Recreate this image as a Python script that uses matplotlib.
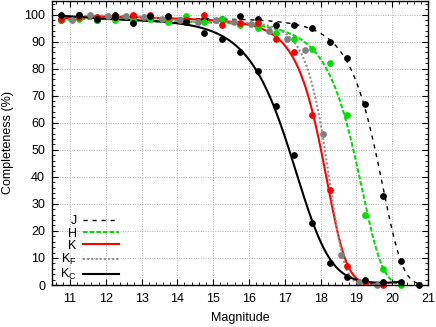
import numpy as np
import matplotlib
matplotlib.use("Agg")
import matplotlib.pyplot as plt
from matplotlib.ticker import MultipleLocator

plt.rcParams['font.family'] = ['Liberation Sans', 'DejaVu Sans']
plt.rcParams['mathtext.default'] = 'regular'

# ---- data ----
mag_J = [10.75, 11.25, 11.75, 12.25, 12.75, 13.25, 13.75, 14.25, 14.75, 15.25, 15.75,
         16.25, 16.75, 17.25, 17.75, 18.25, 18.75, 19.25, 19.75, 20.25, 20.75]
comp_J = [98, 100, 98, 100, 99.4, 99, 99, 98, 98.5, 98.5, 99.3,
          98.2, 96.2, 96.2, 95, 90, 84, 67, 33, 9, 0]

mag_H = [10.75, 11.25, 11.75, 12.25, 12.75, 13.25, 13.75, 14.25, 14.75, 15.25,
         15.75, 16.25, 16.75, 17.25, 17.75, 18.25, 18.75, 19.25, 19.75, 20.25]
comp_H = [98, 98.2, 98, 98, 98, 98.2, 97.2, 99.4, 97.2, 98.4,
          96.2, 95.1, 93.2, 91.1, 87.1, 82, 63, 26, 6, 0]

mag_K = [10.75, 11.25, 11.75, 12.25, 12.75, 13.25, 13.75, 14.25, 14.75, 15.25,
         15.75, 16.25, 16.75, 17.25, 17.75, 18.25, 18.75, 19.25, 19.75]
comp_K = [98.5, 99, 99, 99, 100, 100, 99, 98, 100, 96,
          97, 97, 91, 86, 63, 35, 7, 1, 0]

mag_KF = [11.07, 11.57, 12.07, 12.57, 13.07, 13.57, 14.07, 14.57, 15.07,
          15.57, 16.07, 16.57, 17.07, 17.57, 18.07, 18.57, 19.07, 19.57]
comp_KF = [98, 100, 99.5, 99.5, 99, 98.5, 98, 97.2, 98,
           97.2, 96.6, 94, 91, 87, 56, 11, 1, 0]

mag_KC = [10.75, 11.25, 11.75, 12.25, 12.75, 13.25, 13.75, 14.25, 14.75, 15.25,
          15.75, 16.25, 16.75, 17.25, 17.75, 18.25, 18.75, 19.25, 19.75, 20.25]
comp_KC = [100, 100, 98.2, 99, 97, 99.3, 99.3, 97.2, 93.2, 91,
           86, 79, 66, 48, 23, 8, 3, 2, 1, 1]

labels = ['J', 'H', 'K', 'K$_F$', 'K$_C$']


def fit_curve(m, c, deg=5):
    """Smooth completeness curve: polynomial fitted in complementary log-log space."""
    m = np.asarray(m, float)
    p = np.clip(np.asarray(c, float) / 100.0, 0.005, 0.995)
    y = np.log(-np.log(p))
    w = np.abs(p * np.log(p)) / np.sqrt(p * (1 - p))
    coef = np.polyfit(m, y, deg, w=w)
    mm = np.linspace(m[0], m[-1], 400)
    return mm, 100.0 * np.exp(-np.exp(np.polyval(coef, mm)))


series = [
    (mag_J, comp_J, dict(color='black', lw=1.0, dashes=(3, 3.5)), 'black'),
    (mag_H, comp_H, dict(color='#00e000', lw=1.5, dashes=(2.2, 1.0)), '#00e000'),
    (mag_K, comp_K, dict(color='#ff0000', lw=1.5, linestyle='-'), '#ff0000'),
    (mag_KF, comp_KF, dict(color='#909090', lw=1.5, dashes=(1.0, 1.0)), '#808080'),
    (mag_KC, comp_KC, dict(color='black', lw=1.5, linestyle='-'), 'black'),
]

fig = plt.figure(figsize=(4.36, 3.27), dpi=100)
ax = fig.add_axes([52 / 436, 1 - 285 / 327, 376 / 436, 284 / 327])

for (m, c, lstyle, mcol), lab in zip(series, labels):
    mm, cc = fit_curve(m, c)
    ax.plot(mm, cc, label=lab, zorder=3, **lstyle)
    ax.plot(m, c, 'o', color=mcol, ms=4.9, mec='none', zorder=4, clip_on=False)

ax.set_xlim(10.5, 21)
ax.set_ylim(0, 105)
ax.xaxis.set_major_locator(MultipleLocator(1))
ax.xaxis.set_minor_locator(MultipleLocator(0.2))
ax.yaxis.set_major_locator(MultipleLocator(10))
ax.yaxis.set_minor_locator(MultipleLocator(2))
ax.tick_params(which='both', direction='in', top=True, right=True, labelsize=9)
ax.tick_params(which='major', length=4, width=0.8)
ax.tick_params(which='minor', length=2, width=0.6)
ax.tick_params(axis='x', which='major', pad=6)
ax.tick_params(axis='y', which='major', pad=5)
ax.grid(True, which='major', color='#b0b0b0', linestyle=(0, (1, 1.5)), lw=0.7)
for s in ax.spines.values():
    s.set_linewidth(1.0)
    s.set_zorder(5)

ax.set_xlabel('Magnitude', fontsize=9, labelpad=5)
ax.set_ylabel('Completeness (%)', fontsize=9, labelpad=7)

leg = ax.legend(loc='lower right', bbox_to_anchor=(0.202, -0.022), markerfirst=False,
                frameon=False, fontsize=9, handlelength=2.9, handletextpad=0.5,
                labelspacing=0.02, borderpad=0.2)

fig.savefig('out.png', dpi=100)
